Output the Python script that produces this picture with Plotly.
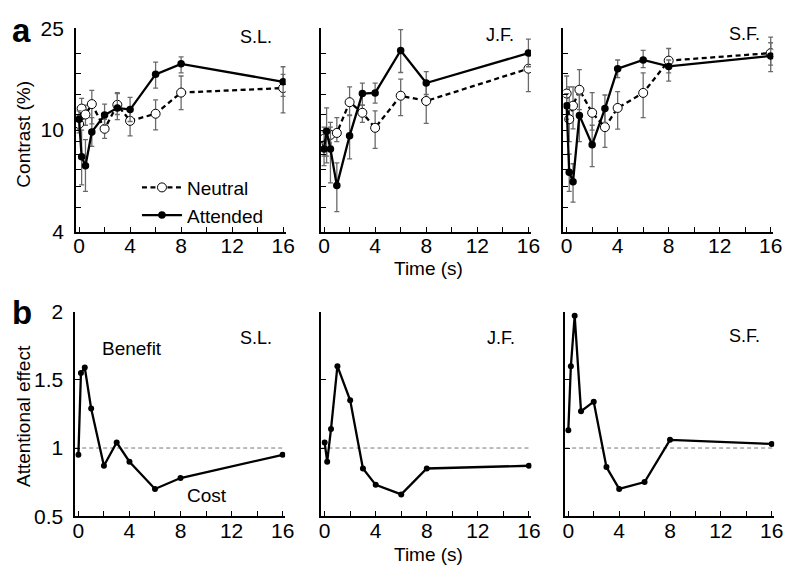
import plotly.graph_objects as go
import numpy as np

# ---------------- data ----------------
t = [0, 0.2, 0.5, 1, 2, 3, 4, 6, 8, 16]

SL_att    = [11.03, 7.87, 7.26, 9.84, 11.45, 12.21, 12.03, 16.52, 18.16, 15.45]
SL_att_hi = [11.9, 10.0, 9.18, 11.19, 12.64, 14.0, 13.43, 18.43, 19.35, 17.69]
SL_att_lo = [10.1, 6.11, 5.76, 8.64, 10.45, 11.0, 10.81, 14.6, 16.75, 13.54]
SL_neu    = [10.57, 12.14, 11.51, 12.64, 10.12, 12.56, 10.87, 11.59, 14.02, 14.6]
SL_neu_hi = [11.39, 13.31, 12.53, 14.3, 11.03, 13.9, 12.1, 13.12, 16.28, 16.52]
SL_neu_lo = [9.75, 11.03, 10.45, 10.57, 9.28, 11.51, 9.5, 10.03, 12.03, 11.69]

JF_att    = [8.44, 9.90, 8.44, 6.07, 9.50, 13.9, 13.98, 20.49, 15.28, 20.0]
JF_att_hi = [9.84, 12.21, 10.27, 7.45, 11.48, 15.28, 15.28, 24.7, 16.94, 22.7]
JF_att_lo = [7.26, 7.92, 6.22, 4.80, 7.72, 12.53, 12.75, 16.8, 13.78, 17.69]
JF_neu    = [9.26, 8.87, 9.58, 9.75, 12.86, 11.69, 10.21, 13.63, 13.0, 17.39]
JF_neu_hi = [10.27, 9.84, 10.72, 11.19, 14.76, 12.53, 11.9, 15.82, 15.02, 19.62]
JF_neu_lo = [7.92, 7.45, 8.64, 9.02, 11.39, 10.72, 8.49, 11.39, 10.63, 14.14]

SF_att    = [12.46, 6.85, 6.29, 11.42, 8.77, 12.14, 17.39, 18.8, 17.75, 19.5]
SF_att_hi = [13.9, 8.06, 7.39, 13.72, 10.45, 13.72, 18.8, 20.49, 18.8, 21.96]
SF_att_lo = [11.03, 5.76, 5.23, 9.02, 7.2, 10.72, 16.05, 17.54, 15.55, 16.94]
SF_neu    = [13.9, 11.03, 12.46, 14.38, 11.69, 10.27, 12.21, 13.98, 18.69, 20.0]
SF_neu_hi = [16.28, 14.76, 14.76, 17.24, 14.02, 12.03, 14.14, 16.75, 20.85, 23.1]
SF_neu_lo = [12.39, 9.02, 10.12, 12.03, 10.0, 8.57, 10.1, 11.19, 16.75, 17.95]

SL_eff = [0.95, 1.55, 1.59, 1.29, 0.87, 1.04, 0.90, 0.70, 0.78, 0.95]
JF_eff = [1.04, 0.90, 1.14, 1.60, 1.35, 0.85, 0.73, 0.66, 0.85, 0.87]
SF_eff = [1.13, 1.60, 1.97, 1.27, 1.34, 0.86, 0.70, 0.75, 1.06, 1.03]

subjects = ["S.L.", "J.F.", "S.F."]
x_ticks = [0, 2, 4, 6, 8, 10, 12, 14, 16]
x_ticklabels = ["0", "", "4", "", "8", "", "12", "", "16"]
ya_ticks = [4, 5, 6, 7, 8, 9, 10, 11.5, 13.8, 16.6, 20, 25]
ya_ticklabels = ["4", "", "", "", "", "", "10", "", "", "", "", "25"]
yb_ticks = [0.5, 1, 1.5, 2]
yb_ticklabels = ["0.5", "1", "1.5", "2"]

# ---------------- layout helpers ----------------
W, H = 800, 581
FONT = "Liberation Sans, Arial, sans-serif"

def px(x):
    return x / W

def py(y):
    return 1 - y / H

xdom_a = [(74, 287), (322.7, 536), (569, 782)]
xdom_b = [(73.3, 286.5), (323.3, 536.5), (570.7, 783)]
ydom_a = (229, 17)
ydom_b = (525, 312)

fig = go.Figure()

att_sets = [(SL_att, SL_att_hi, SL_att_lo), (JF_att, JF_att_hi, JF_att_lo), (SF_att, SF_att_hi, SF_att_lo)]
neu_sets = [(SL_neu, SL_neu_hi, SL_neu_lo), (JF_neu, JF_neu_hi, JF_neu_lo), (SF_neu, SF_neu_hi, SF_neu_lo)]
eff_sets = [SL_eff, JF_eff, SF_eff]

err_style = dict(type="data", symmetric=False, color="#6a6a6a", thickness=1.3, width=2.5)

for i in range(3):
    xa = "x" if i == 0 else f"x{i+1}"
    ya = "y" if i == 0 else f"y{i+1}"
    v, hi, lo = neu_sets[i]
    v_a, hi_a, lo_a = np.array(v), np.array(hi), np.array(lo)
    fig.add_trace(go.Scatter(
        x=t, y=v, xaxis=xa, yaxis=ya, mode="lines+markers", name="Neutral",
        showlegend=(i == 0),
        line=dict(color="black", width=2.3, dash="5px,3.5px"),
        marker=dict(symbol="circle", size=9, color="white", line=dict(color="black", width=1)),
        error_y=dict(array=hi_a - v_a, arrayminus=v_a - lo_a, **err_style),
    ))
    v, hi, lo = att_sets[i]
    v_a, hi_a, lo_a = np.array(v), np.array(hi), np.array(lo)
    fig.add_trace(go.Scatter(
        x=t, y=v, xaxis=xa, yaxis=ya, mode="lines+markers", name="Attended",
        showlegend=(i == 0),
        line=dict(color="black", width=2.3),
        marker=dict(symbol="circle", size=7.5, color="black"),
        error_y=dict(array=hi_a - v_a, arrayminus=v_a - lo_a, **err_style),
    ))

for i in range(3):
    xa = f"x{i+4}"
    ya = f"y{i+4}"
    fig.add_trace(go.Scatter(
        x=t, y=eff_sets[i], xaxis=xa, yaxis=ya, mode="lines+markers", showlegend=False,
        line=dict(color="black", width=2.3),
        marker=dict(symbol="circle", size=6, color="black"),
    ))
    fig.add_shape(type="line", xref=f"{xa} domain", yref=ya, x0=0, x1=1, y0=1, y1=1,
                  line=dict(color="#777777", width=1, dash="4px,3px"), layer="below")

axis_common = dict(showline=True, linecolor="black", linewidth=1.6, ticks="inside",
                   ticklen=5, tickwidth=1.2, tickcolor="black", showgrid=False, zeroline=False,
                   tickfont=dict(family=FONT, size=21, color="black"), mirror=False)

layout = dict(
    width=W, height=H, margin=dict(l=0, r=0, t=0, b=0),
    paper_bgcolor="white", plot_bgcolor="white",
    font=dict(family=FONT, size=19, color="black"),
    showlegend=True,
    legend=dict(x=px(136), y=py(163), xanchor="left", yanchor="top",
                bgcolor="rgba(0,0,0,0)", font=dict(family=FONT, size=19),
                tracegroupgap=0, itemwidth=40),
)

for i in range(3):
    k = "" if i == 0 else str(i + 1)
    layout[f"xaxis{k}"] = dict(domain=[px(xdom_a[i][0]), px(xdom_a[i][1])], range=[-0.25, 16.2],
                               tickvals=x_ticks, ticktext=x_ticklabels, anchor=f"y{k}",
                               ticklabelstandoff=-6, **axis_common)
    layout[f"yaxis{k}"] = dict(domain=[py(ydom_a[0]), py(ydom_a[1])], type="log",
                               range=[np.log10(4), np.log10(25)],
                               tickvals=ya_ticks, ticktext=ya_ticklabels,
                               showticklabels=(i == 0), anchor=f"x{k}",
                               ticklabelstandoff=6, **axis_common)
    k2 = str(i + 4)
    layout[f"xaxis{k2}"] = dict(domain=[px(xdom_b[i][0]), px(xdom_b[i][1])], range=[-0.25, 16.2],
                                tickvals=x_ticks, ticktext=x_ticklabels, anchor=f"y{k2}",
                                ticklabelstandoff=-5, **axis_common)
    layout[f"yaxis{k2}"] = dict(domain=[py(ydom_b[0]), py(ydom_b[1])], range=[0.5, 2],
                                tickvals=yb_ticks, ticktext=yb_ticklabels,
                                showticklabels=(i == 0), anchor=f"x{k2}",
                                ticklabelstandoff=6, **axis_common)

fig.update_layout(**layout)

ann = []
sub_pos_a = [(275, 26), (521, 24), (771, 23)]
sub_pos_b = [(275, 339), (522, 339), (771, 337)]
for i, s in enumerate(subjects):
    ann.append(dict(text=s, x=px(sub_pos_a[i][0]), y=py(sub_pos_a[i][1]), xref="paper", yref="paper",
                    xanchor="right", yanchor="middle", showarrow=False, font=dict(size=18)))
    ann.append(dict(text=s, x=px(sub_pos_b[i][0]), y=py(sub_pos_b[i][1]), xref="paper", yref="paper",
                    xanchor="right", yanchor="middle", showarrow=False, font=dict(size=18)))
ann.append(dict(text="<b>a</b>", x=px(7), y=py(19), xref="paper", yref="paper", xanchor="left",
                yanchor="middle", showarrow=False, font=dict(size=33)))
ann.append(dict(text="<b>b</b>", x=px(7), y=py(313), xref="paper", yref="paper", xanchor="left",
                yanchor="middle", showarrow=False, font=dict(size=33)))
ann.append(dict(text="Contrast (%)", x=px(21), y=py(127), xref="paper", yref="paper", textangle=-90,
                xanchor="center", yanchor="middle", showarrow=False, font=dict(size=19)))
ann.append(dict(text="Attentional effect", x=px(21), y=py(421), xref="paper", yref="paper", textangle=-90,
                xanchor="center", yanchor="middle", showarrow=False, font=dict(size=19)))
ann.append(dict(text="Time (s)", x=px(432), y=py(267), xref="paper", yref="paper",
                xanchor="center", yanchor="middle", showarrow=False, font=dict(size=19)))
ann.append(dict(text="Time (s)", x=px(432), y=py(565), xref="paper", yref="paper",
                xanchor="center", yanchor="middle", showarrow=False, font=dict(size=19)))
ann.append(dict(text="Benefit", x=4.2, y=1.73, xref="x4", yref="y4", xanchor="center", yanchor="middle",
                showarrow=False, font=dict(size=19)))
ann.append(dict(text="Cost", x=10.1, y=0.655, xref="x4", yref="y4", xanchor="center", yanchor="middle",
                showarrow=False, font=dict(size=19)))

fig.update_layout(annotations=ann)

fig.write_html("out.html", config={"displayModeBar": False},
               post_script="document.body.style.margin='0';")
